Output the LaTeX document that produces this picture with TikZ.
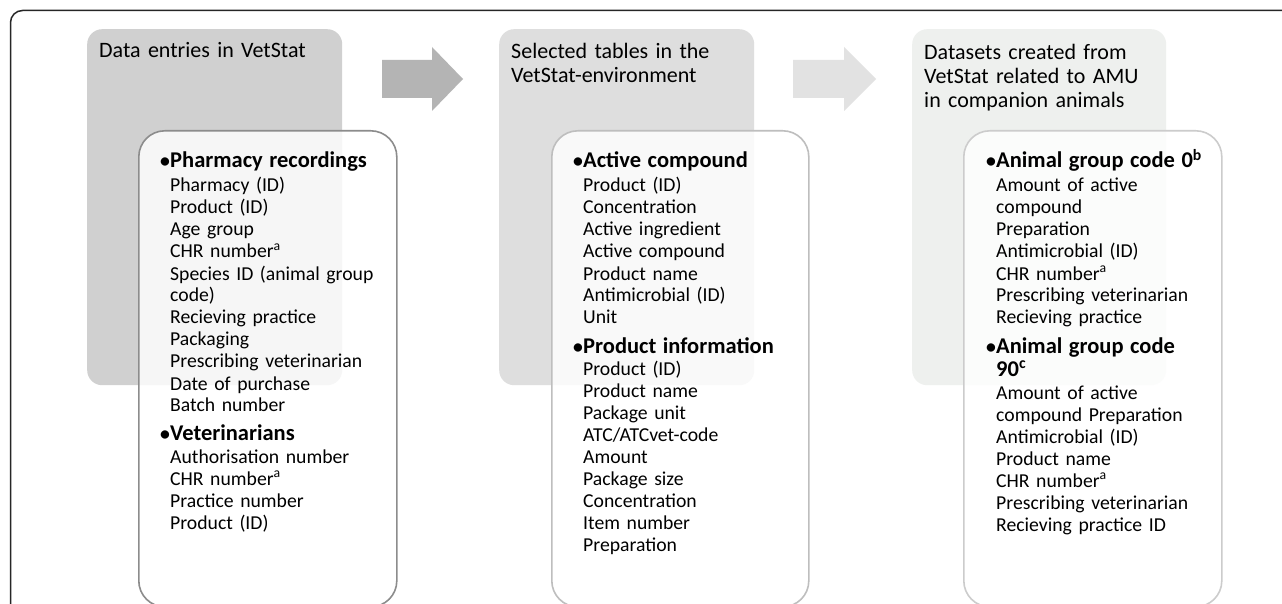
\documentclass[tikz,border=0pt]{standalone}
\usepackage{fontspec}
\setmainfont{Carlito}
\definecolor{pOne}{RGB}{208,208,208}
\definecolor{pTwo}{RGB}{222,222,222}
\definecolor{pThree}{RGB}{238,240,238}
\definecolor{aOne}{RGB}{180,180,180}
\definecolor{aTwo}{RGB}{226,226,226}
\definecolor{sOne}{RGB}{140,140,140}
\definecolor{sTwo}{RGB}{190,190,190}
\definecolor{sThree}{RGB}{204,204,204}
\newcommand{\bul}{\llap{\makebox[10pt][l]{\textbf{•}}}}
\newcommand{\hdr}[1]{{\fontsize{22.5}{24}\selectfont\bfseries #1}}
\begin{document}
\begin{tikzpicture}[x=1pt,y=-1pt,
  panelbox/.style={rounded corners=15pt, anchor=north west, minimum width=255pt, minimum height=356pt, inner sep=0pt, draw=none},
  innerbox/.style={rounded corners=26pt, anchor=north west, minimum width=258pt, minimum height=476pt, inner sep=0pt, line width=1.6pt, fill=white, fill opacity=0.82, draw opacity=1},
  titletext/.style={anchor=base west, inner sep=0pt, text width=250pt, align=left, font=\fontsize{22}{24}\selectfont},
  bodytext/.style={anchor=base west, inner sep=0pt, text width=240pt, align=left, font=\fontsize{19.7}{22}\selectfont}
]
\useasboundingbox (0,0) rectangle (1282,604);
\fill[white] (0,0) rectangle (1282,604);
\clip (0,0) rectangle (1282,604);
% outer frame
\draw[line width=1.5pt, black!85, rounded corners=12pt] (1300,10.5) -- (10.5,10.5) -- (10.5,640);
% panels
\node[panelbox, fill=pOne] (pa) at (87,29) {};
\node[panelbox, fill=pTwo] (pb) at (499,29) {};
\node[panelbox, fill=pThree, minimum width=254pt] (pc) at (912,29) {};
% arrows
\fill[aOne] (382,60) -- (432,60) -- (432,47) -- (463,79) -- (432,111) -- (432,98) -- (382,98) -- cycle;
\fill[aTwo] (793,60) -- (844,60) -- (844,47) -- (876,79) -- (844,111) -- (844,98) -- (793,98) -- cycle;
% titles
\node[titletext] (ta) at (99,58) {Data entries in VetStat};
\node[titletext] (tb) at (511,59) {Selected tables in the\\VetStat-environment};
\node[titletext] (tc) at (924,60) {Datasets created from\\VetStat related to AMU\\in companion animals};
% inner boxes
\node[innerbox, draw=sOne] (ia) at (138,130) {};
\node[innerbox, draw=sTwo, minimum width=257pt] (ib) at (551,130) {};
\node[innerbox, draw=sThree] (ic) at (963,130) {};
% panel 1 texts
\node[bodytext] (xa1) at (170,168) {\bul\hdr{Pharmacy recordings}\\[2pt]
Pharmacy (ID)\\
Product (ID)\\
Age group\\
CHR number\textsuperscript{a}\\
Species ID (animal group\\
code)\\
Recieving practice\\
Packaging\\
Prescribing veterinarian\\
Date of purchase\\
Batch number};
\node[bodytext] (xa2) at (170,440) {\bul\hdr{Veterinarians}\\[1pt]
Authorisation number\\
CHR number\textsuperscript{a}\\
Practice number\\
Product (ID)};
% panel 2 texts
\node[bodytext] (xb1) at (583,168) {\bul\hdr{Active compound}\\[2pt]
Product (ID)\\
Concentration\\
Active ingredient\\
Active compound\\
Product name\\
Antimicrobial (ID)\\
Unit};
\node[bodytext] (xb2) at (583,353) {\bul\hdr{Product information}\\
Product (ID)\\
Product name\\
Package unit\\
ATC/ATCvet-code\\
Amount\\
Package size\\
Concentration\\
Item number\\
Preparation};
% panel 3 texts
\node[bodytext] (xc1) at (996,168) {\bul\hdr{Animal group code 0\textsuperscript{b}}\\[2pt]
Amount of active\\
compound\\
Preparation\\
Antimicrobial (ID)\\
CHR number\textsuperscript{a}\\
Prescribing veterinarian\\
Recieving practice};
\node[bodytext] (xc2) at (996,353) {\bul\hdr{Animal group code}\\[1pt]
\hdr{90\textsuperscript{c}}\\[1pt]
Amount of active\\
compound Preparation\\
Antimicrobial (ID)\\
Product name\\
CHR number\textsuperscript{a}\\
Prescribing veterinarian\\
Recieving practice ID};
\end{tikzpicture}
\end{document}
